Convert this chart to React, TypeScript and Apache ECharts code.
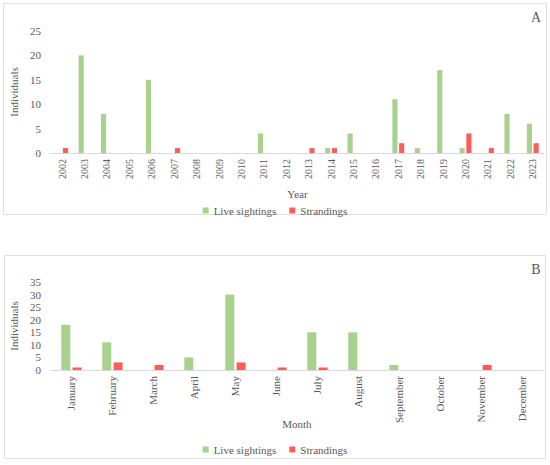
import React, { useEffect, useRef } from 'react';
import * as echarts from 'echarts';

// panel A: per year
const years = [
  '2002', '2003', '2004', '2005', '2006', '2007', '2008', '2009', '2010', '2011', '2012',
  '2013', '2014', '2015', '2016', '2017', '2018', '2019', '2020', '2021', '2022', '2023',
];
const liveByYear = [0, 20, 8, 0, 15, 0, 0, 0, 0, 4, 0, 0, 1, 4, 0, 11, 1, 17, 1, 0, 8, 6];
const strandByYear = [1, 0, 0, 0, 0, 1, 0, 0, 0, 0, 0, 1, 1, 0, 0, 2, 0, 0, 4, 1, 0, 2];

// panel B: per month
const months = [
  'January', 'February', 'March', 'April', 'May', 'June',
  'July', 'August', 'September', 'October', 'November', 'December',
];
const liveByMonth = [18, 11, 0, 5, 30, 0, 15, 15, 2, 0, 0, 0];
const strandByMonth = [1, 3, 2, 0, 3, 1, 1, 0, 0, 0, 2, 0];

const GREEN = '#a9d18e';
const RED = '#ff5b5b';
const TEXT = '#595959';
const FONT = 'Liberation Serif';

const App: React.FC = () => {
  const chartRef = useRef<HTMLDivElement>(null);

  useEffect(() => {
    document.body.style.margin = '0';
    if (!chartRef.current) return;
    const myChart = echarts.init(chartRef.current, null, { renderer: 'svg' });

    const yAxisBase = {
      type: 'value',
      name: 'Individuals',
      nameLocation: 'middle',
      nameRotate: 90,
      nameGap: 24,
      nameTextStyle: { color: TEXT, fontFamily: FONT, fontSize: 11 },
      axisLine: { show: false },
      axisTick: { show: false },
      splitLine: { show: false },
      axisLabel: { color: TEXT, fontFamily: FONT, fontSize: 11, margin: 10 },
    };
    const xAxisBase = {
      type: 'category',
      nameLocation: 'middle',
      nameMoveOverlap: false,
      nameTextStyle: { color: TEXT, fontFamily: FONT, fontSize: 11 },
      axisLine: { lineStyle: { color: '#d9d9d9' } },
      axisTick: { show: false },
    };
    const legendBase = {
      icon: 'rect',
      itemWidth: 6,
      itemHeight: 6,
      itemGap: 13,
      left: 'center',
      textStyle: { color: TEXT, fontFamily: FONT, fontSize: 11 },
      data: ['Live sightings', 'Strandings'],
    };

    const option = {
      animation: false,
      textStyle: { fontFamily: FONT },
      grid: [
        { left: 44, right: 6, top: 31, height: 122 },
        { left: 43, right: 7, top: 282, height: 88 },
      ],
      xAxis: [
        {
          ...xAxisBase,
          gridIndex: 0,
          data: years,
          name: 'Year',
          nameGap: 35,
          axisLabel: { color: TEXT, fontFamily: FONT, fontSize: 10, rotate: 90, interval: 0, margin: 6 },
        },
        {
          ...xAxisBase,
          gridIndex: 1,
          data: months,
          name: 'Month',
          nameGap: 48,
          axisLabel: { color: TEXT, fontFamily: FONT, fontSize: 11, rotate: 90, interval: 0, margin: 6 },
        },
      ],
      yAxis: [
        { ...yAxisBase, gridIndex: 0, min: 0, max: 25, interval: 5 },
        { ...yAxisBase, gridIndex: 1, min: 0, max: 35, interval: 5 },
      ],
      legend: [
        { ...legendBase, top: 200 },
        { ...legendBase, top: 439 },
      ],
      series: [
        {
          name: 'Live sightings', type: 'bar', xAxisIndex: 0, yAxisIndex: 0,
          data: liveByYear, barWidth: '23%', barGap: '30%', itemStyle: { color: GREEN },
        },
        {
          name: 'Strandings', type: 'bar', xAxisIndex: 0, yAxisIndex: 0,
          data: strandByYear, barWidth: '23%', barGap: '30%', itemStyle: { color: RED },
        },
        {
          name: 'Live sightings', type: 'bar', xAxisIndex: 1, yAxisIndex: 1,
          data: liveByMonth, barWidth: '22%', barGap: '25%', itemStyle: { color: GREEN },
        },
        {
          name: 'Strandings', type: 'bar', xAxisIndex: 1, yAxisIndex: 1,
          data: strandByMonth, barWidth: '22%', barGap: '25%', itemStyle: { color: RED },
        },
      ],
      graphic: [
        {
          type: 'rect', silent: true, z: -10,
          shape: { x: 3.5, y: 3.5, width: 543, height: 211 },
          style: { fill: '#fff', stroke: '#e0e0e0', lineWidth: 1 },
        },
        {
          type: 'rect', silent: true, z: -10,
          shape: { x: 4.5, y: 255.5, width: 541, height: 203 },
          style: { fill: '#fff', stroke: '#e0e0e0', lineWidth: 1 },
        },
        {
          type: 'text', x: 536, y: 17,
          style: { text: 'A', fill: TEXT, font: `14px "${FONT}"`, align: 'center', verticalAlign: 'middle' },
        },
        {
          type: 'text', x: 536, y: 269,
          style: { text: 'B', fill: TEXT, font: `14px "${FONT}"`, align: 'center', verticalAlign: 'middle' },
        },
      ],
    };

    myChart.setOption(option);

    return () => {
      myChart.dispose();
    };
  }, []);

  return <div ref={chartRef} style={{ width: '550px', height: '465px' }} />;
};

export default App;
